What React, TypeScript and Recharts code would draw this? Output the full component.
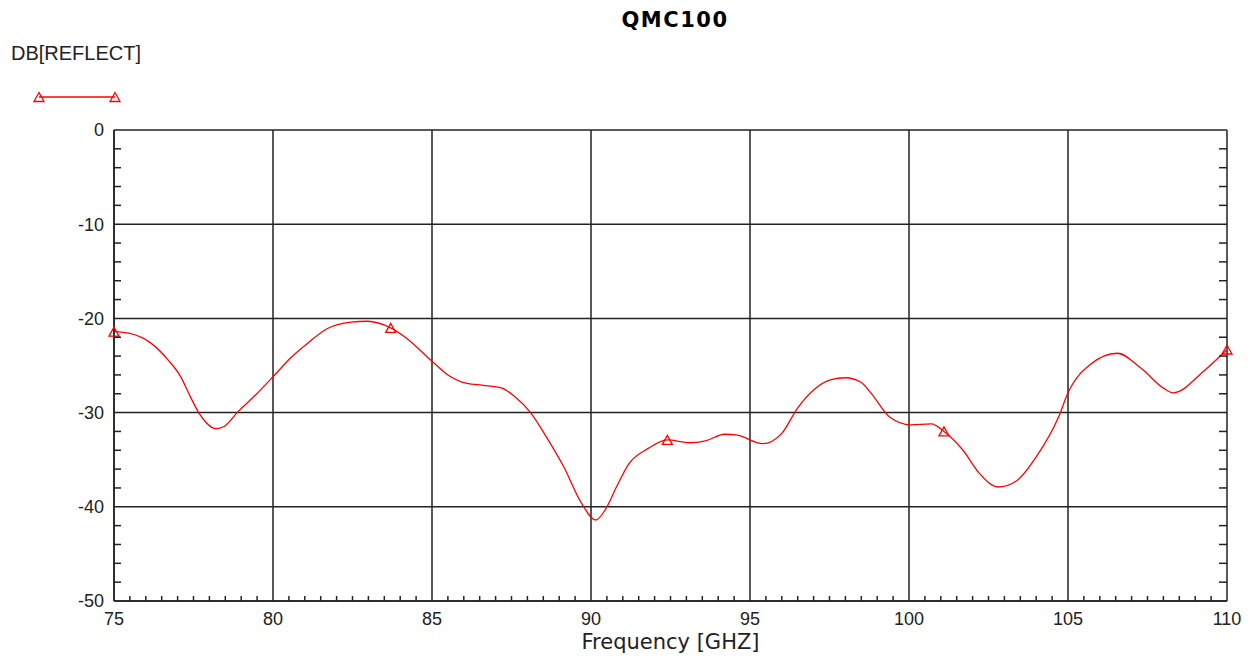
import React from 'react';
import { LineChart, Line, XAxis, YAxis, CartesianGrid } from 'recharts';

const frequency = [
  75, 75.5, 76.15, 76.7, 77.1, 77.4, 77.7, 78.2, 78.45, 78.9, 79.4, 80, 80.55, 81.1, 81.7,
  82.45, 82.97, 83.7, 84.2, 84.95, 85.5, 86.1, 86.6, 87.2, 87.6, 88.1, 88.6, 89.15, 89.7,
  90.15, 90.45, 90.8, 91.2, 91.8, 92.4, 93.1, 93.6, 94.2, 94.6, 95.4, 96, 96.5, 97, 97.55,
  98, 98.5, 98.8, 99.4, 100.05, 100.7, 101.1, 101.7, 102.2, 102.8, 103.4, 104, 104.7, 105,
  105.7, 106.55, 107.3, 108, 108.3, 109.3, 110,
];
const dbReflect = [
  -21.4, -21.6, -22.6, -24.4, -26.2, -28.3, -30.2, -31.7, -31.5, -29.9, -28.3, -26.2, -24.2,
  -22.6, -21.1, -20.4, -20.3, -21.0, -22.1, -24.4, -26.0, -26.9, -27.1, -27.4, -28.3, -30.0,
  -32.6, -35.8, -39.6, -41.4, -40.3, -37.9, -35.4, -33.8, -32.9, -33.2, -33.0, -32.3, -32.4,
  -33.3, -32.2, -29.5, -27.6, -26.5, -26.3, -26.8, -27.9, -30.5, -31.3, -31.2, -32.0, -34.0,
  -36.4, -37.9, -37.2, -34.7, -30.5, -27.9, -24.9, -23.7, -25.3, -27.4, -27.9, -25.5, -23.3,
];
const markerFreqs = [75, 83.7, 92.4, 101.1, 110];

const xTicks = [75, 80, 85, 90, 95, 100, 105, 110];
const yTicks = [0, -10, -20, -30, -40, -50];
const xMinorTicks = Array.from({ length: 71 }, (_, i) => 75 + i * 0.5);
const yMinorTicks = Array.from({ length: 26 }, (_, i) => -50 + i * 2);

const data = frequency.map((f, i) => ({ f, db: dbReflect[i] }));

const RED = '#ff0000';
const AXIS = '#222';
const FONT = 'Liberation Sans, Arial, sans-serif';

const Triangle = ({ cx, cy }: { cx: number; cy: number }) => (
  <path
    d={`M${cx - 5},${cy + 4.5} L${cx + 5},${cy + 4.5} L${cx},${cy - 4.5} Z`}
    fill="none"
    stroke={RED}
    strokeWidth={1.3}
  />
);

const renderDot = (props: any) => {
  const { cx, cy, payload, index } = props;
  if (!markerFreqs.includes(payload.f)) return <g key={`d${index}`} />;
  return (
    <g key={`d${index}`}>
      <Triangle cx={cx} cy={cy} />
    </g>
  );
};

const XTick = (props: any) => {
  const { x, y, payload } = props;
  const major = xTicks.includes(payload.value);
  return (
    <g>
      {!major && <line x1={x} y1={y} x2={x} y2={y - 5} stroke={AXIS} strokeWidth={1.5} />}
      {major && (
        <text x={x} y={y + 11} dy="0.71em" textAnchor="middle" fontSize={18} fontFamily={FONT} fill="#222">
          {payload.value}
        </text>
      )}
    </g>
  );
};

const YTickLeft = (props: any) => {
  const { x, y, payload } = props;
  const major = yTicks.includes(payload.value);
  return (
    <g>
      {!major && <line x1={x} y1={y} x2={x + 7} y2={y} stroke={AXIS} strokeWidth={1.5} />}
      {major && (
        <text x={x - 10} y={y} dy="0.35em" textAnchor="end" fontSize={18} fontFamily={FONT} fill="#222">
          {payload.value}
        </text>
      )}
    </g>
  );
};

const YTickRight = (props: any) => {
  const { x, y, payload } = props;
  if (yTicks.includes(payload.value)) return <g />;
  return <line x1={x} y1={y} x2={x - 8} y2={y} stroke={AXIS} strokeWidth={1.5} />;
};

export default function App() {
  return (
    <div style={{ position: 'absolute', left: 0, top: 0, width: 1254, height: 663, background: '#fff' }}>
      <div
        style={{
          position: 'absolute', left: 0, width: 1350, top: 8, textAlign: 'center',
          fontFamily: 'DejaVu Sans, sans-serif', fontWeight: 'bold', fontSize: 21, letterSpacing: 1.5,
        }}
      >
        QMC100
      </div>
      <div
        style={{
          position: 'absolute', left: 11, top: 42,
          fontFamily: FONT, fontSize: 20, color: '#222',
        }}
      >
        DB[REFLECT]
      </div>
      <svg style={{ position: 'absolute', left: 0, top: 0 }} width={160} height={110}>
        <line x1={39} y1={97} x2={115} y2={97} stroke={RED} strokeWidth={1.3} />
        <Triangle cx={39} cy={97} />
        <Triangle cx={115} cy={97} />
      </svg>
      <div
        style={{
          position: 'absolute', left: 114, width: 1113, top: 630, textAlign: 'center',
          fontFamily: 'DejaVu Sans, sans-serif', fontSize: 21, color: '#222',
        }}
      >
        Frequency [GHZ]
      </div>
      <LineChart
        width={1254}
        height={663}
        data={data}
        margin={{ top: 130, right: 0, bottom: 0, left: 0 }}
        style={{ position: 'absolute', left: 0, top: 0 }}
      >
        <CartesianGrid
          stroke={AXIS}
          strokeWidth={1.5}
          horizontalValues={yTicks}
          verticalValues={xTicks}
        />
        <XAxis
          dataKey="f"
          type="number"
          domain={[75, 110]}
          ticks={xMinorTicks}
          interval={0}
          tickLine={false}
          tickSize={0}
          tickMargin={0}
          axisLine={{ stroke: AXIS, strokeWidth: 1.5 }}
          tick={<XTick />}
          height={62}
        />
        <YAxis
          type="number"
          domain={[-50, 0]}
          ticks={yMinorTicks}
          interval={0}
          tickLine={false}
          tickSize={0}
          tickMargin={0}
          axisLine={{ stroke: AXIS, strokeWidth: 1.5 }}
          tick={<YTickLeft />}
          width={114}
        />
        <YAxis
          yAxisId="right"
          orientation="right"
          type="number"
          domain={[-50, 0]}
          allowDataOverflow
          ticks={yMinorTicks}
          interval={0}
          tickLine={false}
          tickSize={0}
          tickMargin={0}
          axisLine={false}
          tick={<YTickRight />}
          width={27}
        />
        <Line
          dataKey="db"
          type="monotone"
          stroke={RED}
          strokeWidth={1.3}
          dot={renderDot}
          activeDot={false}
          isAnimationActive={false}
        />
        <Line
          yAxisId="right"
          dataKey="db"
          stroke="none"
          dot={false}
          activeDot={false}
          legendType="none"
          isAnimationActive={false}
        />
      </LineChart>
    </div>
  );
}
